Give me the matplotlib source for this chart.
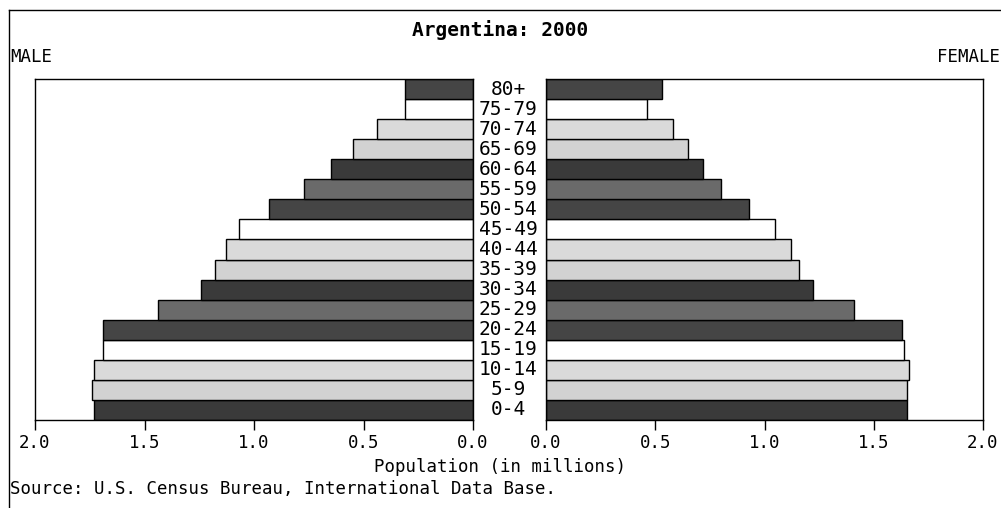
import matplotlib
matplotlib.use('Agg')
import matplotlib.pyplot as plt
from matplotlib.lines import Line2D

# age groups, bottom to top
ages = ['0-4', '5-9', '10-14', '15-19', '20-24', '25-29', '30-34', '35-39',
        '40-44', '45-49', '50-54', '55-59', '60-64', '65-69', '70-74', '75-79', '80+']

# population in millions
male = [1.73, 1.74, 1.73, 1.69, 1.69, 1.44, 1.24, 1.18,
        1.13, 1.07, 0.93, 0.77, 0.65, 0.55, 0.44, 0.31, 0.31]
female = [1.65, 1.65, 1.66, 1.64, 1.63, 1.41, 1.22, 1.16,
          1.12, 1.05, 0.93, 0.80, 0.72, 0.65, 0.58, 0.46, 0.53]

# grey shades repeat every 6 groups
shades = ['#3a3a3a', '#d2d2d2', '#dadada', '#ffffff', '#454545', '#6a6a6a']
colors = [shades[i % 6] for i in range(len(ages))]

xticks = [0.0, 0.5, 1.0, 1.5, 2.0]
xticklabels = ['0.0', '0.5', '1.0', '1.5', '2.0']

plt.rcParams['font.family'] = ['DejaVu Sans Mono']

W, H = 1001, 508
fig = plt.figure(figsize=(W / 100, H / 100), dpi=100)

def fx(px):
    return px / W

def fy(py):
    return 1 - py / H

bottom = fy(420)
height = fy(79) - bottom

axl = fig.add_axes([fx(35), bottom, fx(473) - fx(35), height])
axr = fig.add_axes([fx(546), bottom, fx(983) - fx(546), height])

y = list(range(len(ages)))
axl.barh(y, male, height=1.0, color=colors, edgecolor='black', linewidth=1)
axr.barh(y, female, height=1.0, color=colors, edgecolor='black', linewidth=1)

for ax in (axl, axr):
    ax.set_ylim(-0.5, len(ages) - 0.5)
    ax.set_xlim(0, 2.0)
    ax.set_yticks([])
    ax.set_xticks(xticks)
    ax.set_xticklabels(xticklabels, fontsize=12.5)
    ax.tick_params(axis='x', direction='out', length=7, width=1, pad=3)
    for s in ax.spines.values():
        s.set_linewidth(1)
axl.invert_xaxis()

# age labels in the middle gap
for i, a in enumerate(ages):
    yc = axl.transData.transform((0, i))[1]
    fig.text(fx(508), yc / fig.dpi / fig.get_size_inches()[1], a,
             ha='center', va='center', fontsize=14)

fig.text(0.5, fy(30), 'Argentina: 2000', ha='center', va='center',
         fontsize=14, fontweight='bold')
fig.text(fx(10), fy(57), 'MALE', ha='left', va='center', fontsize=12.5)
fig.text(fx(1000), fy(57), 'FEMALE', ha='right', va='center', fontsize=12.5)
fig.text(0.5, fy(467), 'Population (in millions)', ha='center', va='center', fontsize=12.5)
fig.text(fx(10), fy(489), 'Source: U.S. Census Bureau, International Data Base.',
         ha='left', va='center', fontsize=12.5)

# outer frame lines (top and left)
fig.add_artist(Line2D([fx(9), 1], [fy(10), fy(10)], color='black', linewidth=1))
fig.add_artist(Line2D([fx(9), fx(9)], [fy(10), 0], color='black', linewidth=1))

fig.savefig('out.png', dpi=100)
